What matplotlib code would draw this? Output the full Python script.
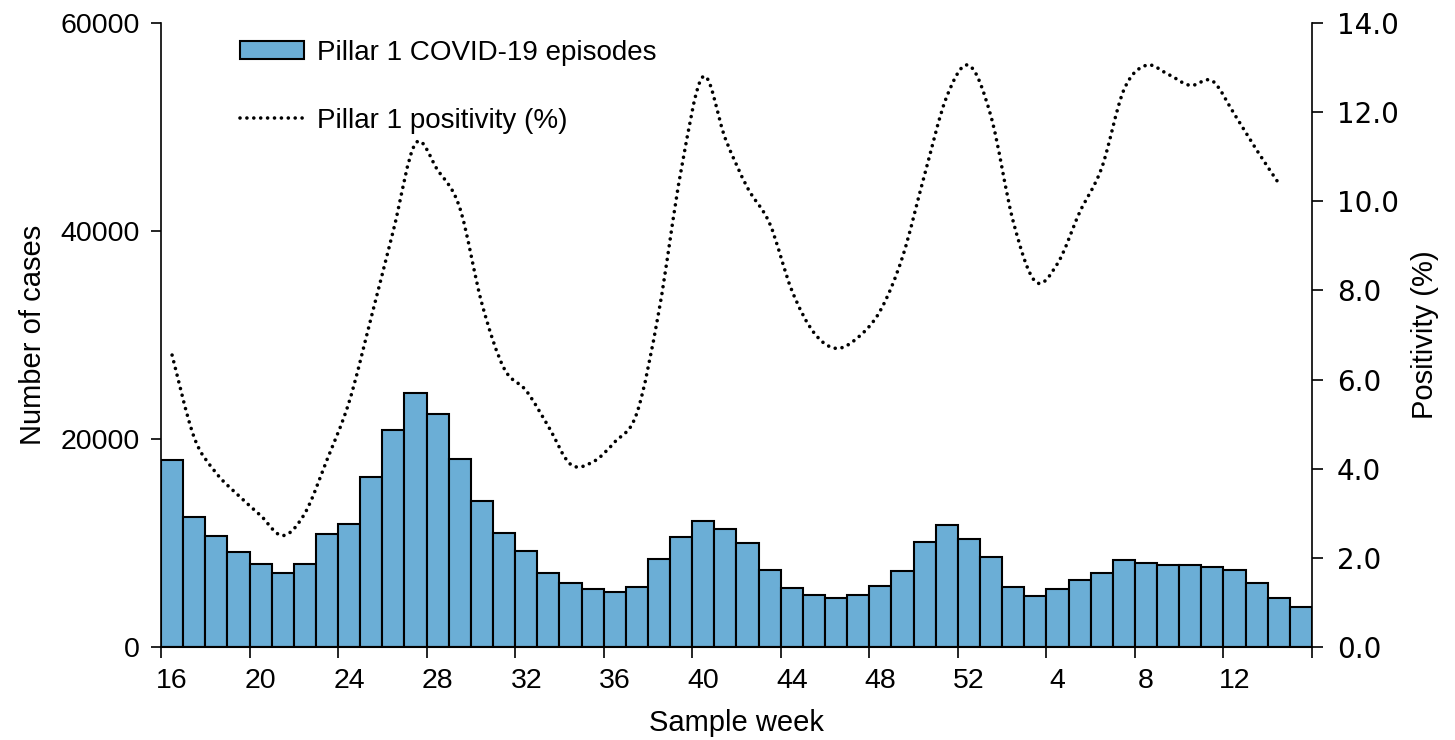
import matplotlib
matplotlib.use("Agg")
import matplotlib.pyplot as plt
import numpy as np
from matplotlib.path import Path
from matplotlib.patches import PathPatch
from matplotlib.lines import Line2D
from matplotlib.patches import Patch

plt.rcParams["font.family"] = ["Liberation Sans", "DejaVu Sans"]
plt.rcParams["font.size"] = 20.5

# sample weeks: 16-52 then 1-15 of the following year
weeks = list(range(16, 53)) + list(range(1, 16))

cases = [
    18000, 12500, 10700, 9100, 8000, 7150, 8000, 10900, 11850, 16300,
    20900, 24400, 22400, 18050, 14050, 10950, 9200, 7100, 6150, 5550,
    5250, 5800, 8450, 10600, 12100, 11300, 10000, 7400, 5700, 5000,
    4750, 5000, 5850, 7350, 10100, 11700, 10400, 8650, 5750, 4950,
    5600, 6450, 7100, 8400, 8050, 7850, 7900, 7700, 7400, 6200,
    4750, 3850,
]

# positivity is reported up to week 14
positivity = [
    6.55, 4.7, 3.9, 3.4, 2.95, 2.5, 3.0, 4.2, 5.5, 7.4,
    9.35, 11.3, 10.7, 9.85, 7.7, 6.25, 5.75, 4.95, 4.1, 4.15,
    4.6, 5.25, 7.55, 10.7, 12.8, 11.4, 10.3, 9.5, 8.0, 7.05,
    6.7, 6.95, 7.55, 8.75, 10.6, 12.35, 13.05, 11.9, 9.55, 8.2,
    8.6, 9.75, 10.75, 12.5, 13.05, 12.85, 12.6, 12.7, 11.95, 11.15,
    10.4,
]

tick_labels = [str(w) for w in weeks[::4]]

bar_color = "#6BAED6"

fig = plt.figure(figsize=(14.55, 7.4), dpi=100)
ax = fig.add_axes([161 / 1455, 1 - 647 / 740, 1151 / 1455, 624 / 740])

x = np.arange(len(weeks))
ax.bar(x, cases, width=1.0, color=bar_color, edgecolor="black", linewidth=1.5)
ax.set_xlim(-0.5, len(weeks) - 0.5)
ax.set_ylim(0, 60000)
ax.set_yticks([0, 20000, 40000, 60000])
ax.set_ylabel("Number of cases", fontsize=21, labelpad=10)
ax.set_xlabel("Sample week", fontsize=21, labelpad=11)

# tick marks sit between bars, labels sit under the bars
ax.set_xticks(np.arange(-0.5, len(weeks), 4))
ax.set_xticklabels([])
ax.set_xticks(x[::4], minor=True)
ax.set_xticklabels(tick_labels, minor=True)
ax.tick_params(axis="x", which="major", direction="out", length=8, width=1.2)
ax.tick_params(axis="x", which="minor", length=0, pad=15)
ax.tick_params(axis="y", direction="out", length=7, width=1.2, pad=8)

for side in ("top", "right"):
    ax.spines[side].set_visible(False)
ax.spines["left"].set_linewidth(1.2)
ax.spines["bottom"].set_linewidth(1.5)

ax2 = ax.twinx()
ax2.set_ylim(0, 14)
ax2.set_yticks(np.arange(0, 15, 2))
ax2.set_yticklabels([f"{v:.1f}" for v in np.arange(0, 15, 2)],
                    family="DejaVu Sans", fontsize=20)
ax2.tick_params(axis="y", direction="out", length=8, width=1.2, pad=10)
ax2.set_ylabel("Positivity (%)", fontsize=21, labelpad=9)
for side in ("top", "left", "bottom"):
    ax2.spines[side].set_visible(False)
ax2.spines["right"].set_linewidth(1.2)

# smoothed positivity curve (cubic Bezier segments through each weekly value)
px = np.arange(len(positivity), dtype=float)
py = np.asarray(positivity, dtype=float)
pts = np.column_stack([px, py])
padded = np.vstack([pts[0], pts, pts[-1]])
verts = [tuple(pts[0])]
codes = [Path.MOVETO]
for i in range(len(pts) - 1):
    p0, p1, p2, p3 = padded[i], padded[i + 1], padded[i + 2], padded[i + 3]
    c1 = p1 + (p2 - p0) / 6.0
    c2 = p2 - (p3 - p1) / 6.0
    verts += [tuple(c1), tuple(c2), tuple(p2)]
    codes += [Path.CURVE4] * 3
dots = (0, (0.01, 1.9))
curve = PathPatch(Path(verts, codes), fill=False, edgecolor="black",
                  linewidth=2.6, linestyle=dots, capstyle="round")
ax2.add_patch(curve)

handles = [
    Patch(facecolor=bar_color, edgecolor="black", linewidth=1.5),
    Line2D([], [], color="black", linewidth=2.6, linestyle=dots,
           dash_capstyle="round"),
]
ax2.legend(handles, ["Pillar 1 COVID-19 episodes", "Pillar 1 positivity (%)"],
           loc="upper left", bbox_to_anchor=(0.069, 0.973), frameon=False,
           fontsize=20, borderpad=0, borderaxespad=0, handlelength=2.3,
           handleheight=0.58, handletextpad=0.47, labelspacing=1.5)

fig.savefig("out.png", dpi=100)
